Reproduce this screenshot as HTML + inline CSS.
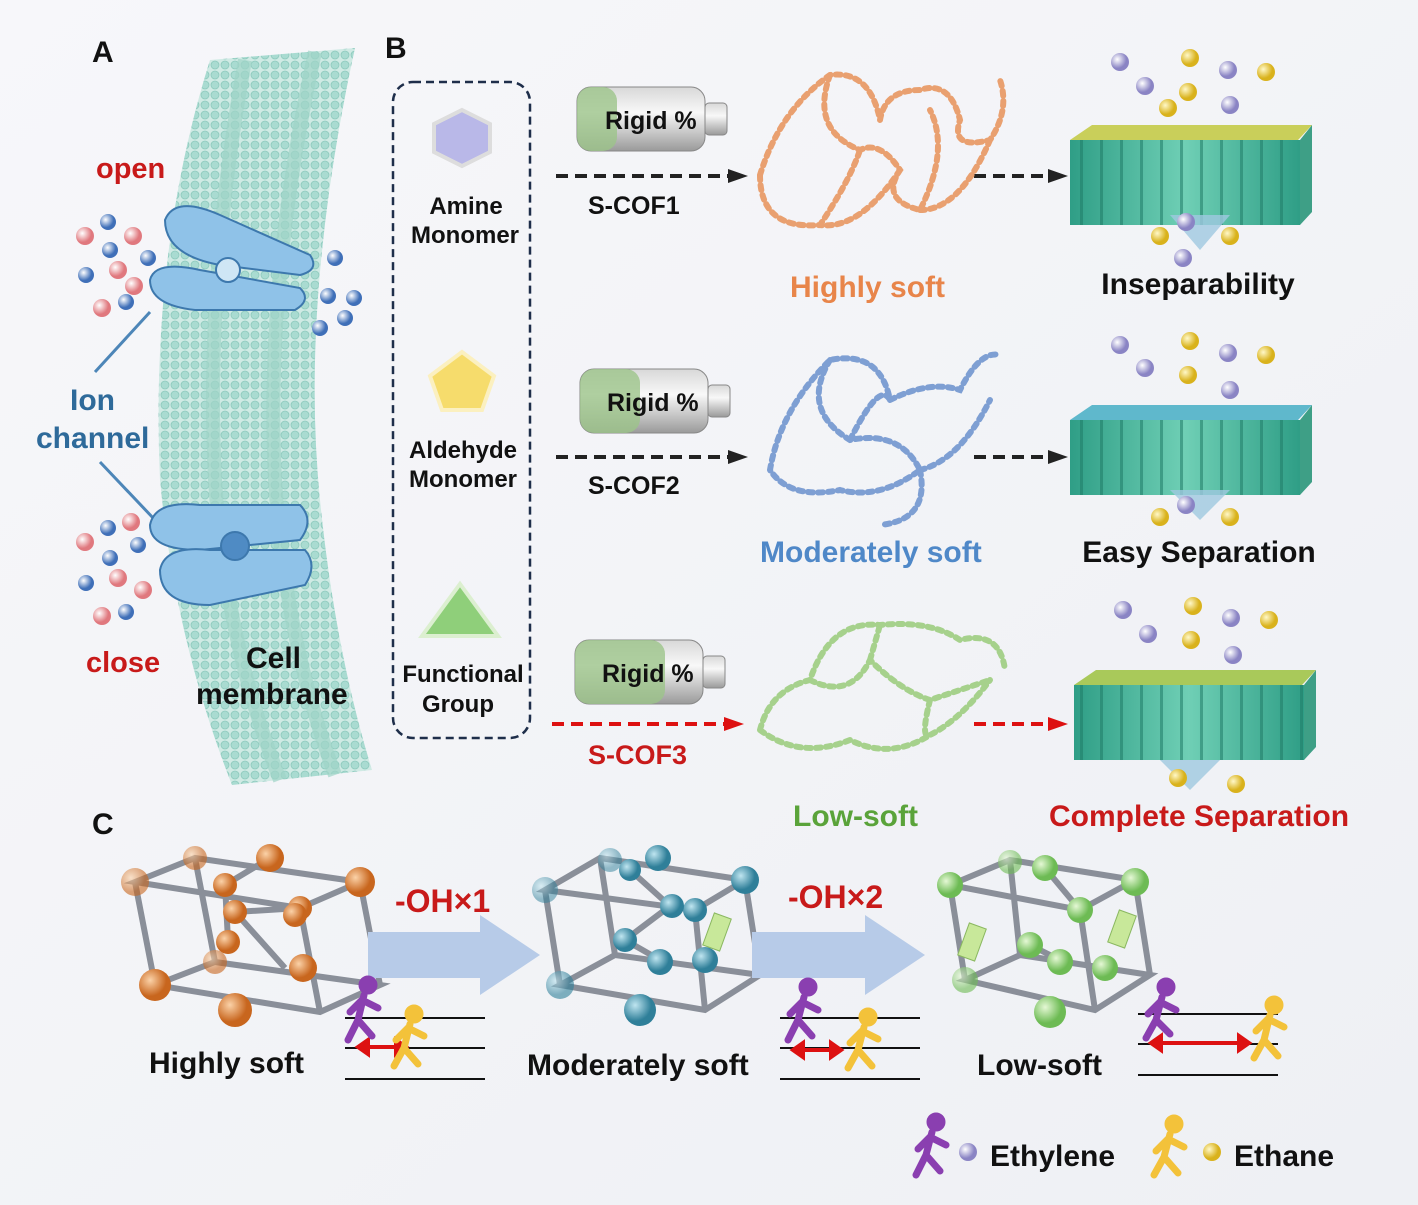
<!DOCTYPE html>
<html><head><meta charset="utf-8"><style>
html,body{margin:0;padding:0;background:#f4f5f8;}
svg{display:block;font-family:"Liberation Sans",Arial,sans-serif;font-weight:bold;}
</style></head><body>
<svg width="1418" height="1205" viewBox="0 0 1418 1205" xmlns="http://www.w3.org/2000/svg">
<defs>
<linearGradient id="bg" x1="0" y1="0" x2="1" y2="1"><stop offset="0" stop-color="#f7f7fa"/><stop offset="1" stop-color="#eef0f4"/></linearGradient>
<pattern id="lip" width="10" height="10" patternUnits="userSpaceOnUse"><rect width="10" height="10" fill="#cfeae4"/><circle cx="5" cy="5" r="4" fill="#a9dbd1" stroke="#8cc9bd" stroke-width="0.8"/></pattern>
<pattern id="cols" width="20" height="10" patternUnits="userSpaceOnUse"><rect width="20" height="10" fill="none"/><rect x="0" y="0" width="3" height="10" fill="#1f7a66" opacity="0.55"/></pattern>
<linearGradient id="bat" x1="0" y1="0" x2="0" y2="1"><stop offset="0" stop-color="#d8d8d8"/><stop offset="0.4" stop-color="#f8f8f8"/><stop offset="1" stop-color="#9a9a9a"/></linearGradient>
<linearGradient id="mem" x1="0" y1="0" x2="1" y2="0"><stop offset="0" stop-color="#2f9e86"/><stop offset="0.5" stop-color="#6fcfb5"/><stop offset="1" stop-color="#2f9e86"/></linearGradient>
<radialGradient id="og" cx="0.35" cy="0.35"><stop offset="0" stop-color="#fbd2a8"/><stop offset="1" stop-color="#c8661e"/></radialGradient>
<radialGradient id="bgb" cx="0.35" cy="0.35"><stop offset="0" stop-color="#bfe5f0"/><stop offset="1" stop-color="#2f7f99"/></radialGradient>
<radialGradient id="gg" cx="0.35" cy="0.35"><stop offset="0" stop-color="#e5f8d5"/><stop offset="1" stop-color="#6dbb54"/></radialGradient>
<radialGradient id="pb" cx="0.35" cy="0.35"><stop offset="0" stop-color="#fff"/><stop offset="1" stop-color="#8a84c4"/></radialGradient>
<radialGradient id="yb" cx="0.35" cy="0.35"><stop offset="0" stop-color="#fff8c8"/><stop offset="1" stop-color="#d9b21c"/></radialGradient>
<radialGradient id="rb" cx="0.35" cy="0.35"><stop offset="0" stop-color="#fff"/><stop offset="1" stop-color="#e0787e"/></radialGradient>
<radialGradient id="blb" cx="0.35" cy="0.35"><stop offset="0" stop-color="#fff"/><stop offset="1" stop-color="#3f6fb8"/></radialGradient>
<marker id="ak" markerUnits="userSpaceOnUse" markerWidth="20" markerHeight="20" refX="10" refY="10" orient="auto"><path d="M0,3 L20,10 L0,17z" fill="#222"/></marker>
<marker id="ar" markerUnits="userSpaceOnUse" markerWidth="20" markerHeight="20" refX="10" refY="10" orient="auto"><path d="M0,3 L20,10 L0,17z" fill="#d11"/></marker>
</defs>
<rect width="1418" height="1205" fill="url(#bg)"/>

<!-- A: membrane -->
<path d="M210,60 L355,48 Q300,300 320,500 Q335,650 372,770 L232,785 Q175,640 160,480 Q150,250 210,60Z" fill="url(#lip)"/>
<path d="M245,60 Q205,280 215,480 Q225,640 280,780 M315,52 Q265,280 275,480 Q285,640 335,775" stroke="#9fd4c8" stroke-width="14" fill="none" opacity="0.7"/>
<text x="92" y="62" font-size="30" fill="#111">A</text>
<text x="96" y="178" font-size="29" fill="#c81a1a">open</text>
<text x="86" y="672" font-size="29" fill="#c81a1a">close</text>
<text x="70" y="410" font-size="30" fill="#2e6a9a">Ion</text>
<text x="36" y="448" font-size="30" fill="#2e6a9a">channel</text>
<text x="246" y="668" font-size="30" fill="#111">Cell</text>
<text x="196" y="704" font-size="30" fill="#111">membrane</text>
<line x1="95" y1="372" x2="150" y2="312" stroke="#4d86b8" stroke-width="3"/>
<line x1="100" y1="462" x2="155" y2="520" stroke="#4d86b8" stroke-width="3"/>
<g fill="#8fc2e8" stroke="#3d78ad" stroke-width="2">
<path d="M165,220 Q175,195 220,215 L310,255 Q320,270 300,275 L220,265 Q165,255 165,220Z"/>
<path d="M150,280 Q155,260 200,270 L300,288 Q312,300 295,310 L195,310 Q150,305 150,280Z"/>
<circle cx="228" cy="270" r="12" fill="#cfe6f5"/>
<path d="M150,525 Q155,500 200,505 L300,505 Q315,520 300,540 L200,550 Q150,550 150,525Z"/>
<path d="M160,570 Q165,545 210,550 L305,550 Q318,565 305,585 L210,605 Q160,605 160,570Z"/>
<circle cx="235" cy="546" r="14" fill="#4f8bc4"/>
</g>
<g>
<circle cx="85" cy="236" r="9" fill="url(#rb)"/><circle cx="108" cy="222" r="8" fill="url(#blb)"/><circle cx="133" cy="236" r="9" fill="url(#rb)"/><circle cx="110" cy="250" r="8" fill="url(#blb)"/><circle cx="86" cy="275" r="8" fill="url(#blb)"/><circle cx="118" cy="270" r="9" fill="url(#rb)"/><circle cx="148" cy="258" r="8" fill="url(#blb)"/><circle cx="102" cy="308" r="9" fill="url(#rb)"/><circle cx="126" cy="302" r="8" fill="url(#blb)"/><circle cx="134" cy="286" r="9" fill="url(#rb)"/>
<circle cx="335" cy="258" r="8" fill="url(#blb)"/><circle cx="328" cy="296" r="8" fill="url(#blb)"/><circle cx="354" cy="298" r="8" fill="url(#blb)"/><circle cx="345" cy="318" r="8" fill="url(#blb)"/><circle cx="320" cy="328" r="8" fill="url(#blb)"/>
<circle cx="85" cy="542" r="9" fill="url(#rb)"/><circle cx="108" cy="528" r="8" fill="url(#blb)"/><circle cx="131" cy="522" r="9" fill="url(#rb)"/><circle cx="110" cy="558" r="8" fill="url(#blb)"/><circle cx="86" cy="583" r="8" fill="url(#blb)"/><circle cx="118" cy="578" r="9" fill="url(#rb)"/><circle cx="143" cy="590" r="9" fill="url(#rb)"/><circle cx="102" cy="616" r="9" fill="url(#rb)"/><circle cx="126" cy="612" r="8" fill="url(#blb)"/><circle cx="138" cy="545" r="8" fill="url(#blb)"/>
</g>

<!-- B -->
<text x="385" y="58" font-size="30" fill="#111">B</text>
<rect x="393" y="82" width="137" height="656" rx="20" fill="none" stroke="#1e2e4a" stroke-width="2.5" stroke-dasharray="8,5"/>
<polygon points="462,110 490,124 490,152 462,166 434,152 434,124" fill="#b9b8e8" stroke="#ddd" stroke-width="4"/>
<polygon points="462,352 494,376 482,410 442,410 430,376" fill="#f6dc6c" stroke="#fbf0c0" stroke-width="4"/>
<polygon points="460,584 498,636 422,636" fill="#8fcf7a" stroke="#dcefd0" stroke-width="4"/>
<g font-size="24" fill="#111" text-anchor="middle">
<text x="466" y="214">Amine</text><text x="465" y="243">Monomer</text>
<text x="463" y="458">Aldehyde</text><text x="463" y="487">Monomer</text>
<text x="463" y="682">Functional</text><text x="458" y="712">Group</text>
</g>
<g>
<rect x="577" y="87" width="128" height="64" rx="14" fill="url(#bat)" stroke="#888"/><rect x="577" y="87" width="40" height="64" rx="14" fill="#9cc48a" opacity="0.8"/><rect x="705" y="103" width="22" height="32" rx="4" fill="url(#bat)" stroke="#888"/>
<text x="605" y="129" font-size="25" fill="#111">Rigid %</text>
<rect x="580" y="369" width="128" height="64" rx="14" fill="url(#bat)" stroke="#888"/><rect x="580" y="369" width="60" height="64" rx="14" fill="#9cc48a" opacity="0.8"/><rect x="708" y="385" width="22" height="32" rx="4" fill="url(#bat)" stroke="#888"/>
<text x="607" y="411" font-size="25" fill="#111">Rigid %</text>
<rect x="575" y="640" width="128" height="64" rx="14" fill="url(#bat)" stroke="#888"/><rect x="575" y="640" width="90" height="64" rx="14" fill="#9cc48a" opacity="0.8"/><rect x="703" y="656" width="22" height="32" rx="4" fill="url(#bat)" stroke="#888"/>
<text x="602" y="682" font-size="25" fill="#111">Rigid %</text>
</g>
<g stroke-width="4" stroke-dasharray="12,7" fill="none">
<line x1="556" y1="176" x2="738" y2="176" stroke="#222" marker-end="url(#ak)"/>
<line x1="974" y1="176" x2="1058" y2="176" stroke="#222" marker-end="url(#ak)"/>
<line x1="556" y1="457" x2="738" y2="457" stroke="#222" marker-end="url(#ak)"/>
<line x1="974" y1="457" x2="1058" y2="457" stroke="#222" marker-end="url(#ak)"/>
<line x1="552" y1="724" x2="734" y2="724" stroke="#d11" marker-end="url(#ar)"/>
<line x1="974" y1="724" x2="1058" y2="724" stroke="#d11" marker-end="url(#ar)"/>
</g>
<text x="588" y="214" font-size="25" fill="#111">S-COF1</text>
<text x="588" y="494" font-size="25" fill="#111">S-COF2</text>
<text x="588" y="764" font-size="27" fill="#c81a1a">S-COF3</text>
<g fill="none" stroke-width="6" stroke-linecap="round" stroke-dasharray="5,5">
<path d="M760,175 Q780,110 830,75 Q870,70 880,120 Q885,90 920,90 Q950,80 960,120 Q950,150 990,140 Q1010,110 1000,80 M830,75 Q810,130 860,150 Q880,140 900,170 Q880,200 920,210 Q950,150 930,110 M760,175 Q760,230 820,225 Q850,180 860,150 M900,170 Q860,230 820,225 M920,210 Q960,210 990,140" stroke="#e9a070"/>
<path d="M770,470 Q780,410 830,360 Q880,350 890,400 Q930,380 960,390 Q980,350 1000,355 M830,360 Q800,410 850,440 Q900,430 920,470 Q880,500 840,490 Q790,500 770,470 M920,470 Q960,460 990,400 M850,440 Q880,380 890,400 M920,470 Q930,520 880,525" stroke="#7e9fd3"/>
<path d="M760,730 Q770,690 810,680 Q830,620 880,625 Q930,620 960,640 Q1000,630 1005,670 M810,680 Q850,700 870,660 Q900,690 930,700 Q960,690 990,680 M760,730 Q800,760 850,740 Q890,760 930,735 Q960,720 990,680 M870,660 Q880,625 880,625 M930,700 Q920,740 930,735" stroke="#a6d18c"/>
</g>
<text x="790" y="297" font-size="30" fill="#e8854a">Highly soft</text>
<text x="760" y="562" font-size="30" fill="#4f88c8">Moderately soft</text>
<text x="793" y="826" font-size="30" fill="#5aa33a">Low-soft</text>
<g>
<polygon points="1092,125 1312,125 1298,140 1070,140" fill="#c9cf5a"/>
<rect x="1070" y="140" width="230" height="85" fill="url(#mem)"/>
<rect x="1070" y="140" width="230" height="85" fill="url(#cols)"/>
<polygon points="1300,140 1312,125 1312,212 1300,225" fill="#3e9f86"/>
<polygon points="1170,215 1230,215 1200,250" fill="#9fc8e0" opacity="0.8"/>
<polygon points="1092,405 1312,405 1298,420 1070,420" fill="#5fb8cc"/>
<rect x="1070" y="420" width="230" height="75" fill="url(#mem)"/>
<rect x="1070" y="420" width="230" height="75" fill="url(#cols)"/>
<polygon points="1300,420 1312,405 1312,482 1300,495" fill="#3e9f86"/>
<polygon points="1170,490 1230,490 1200,520" fill="#9fc8e0" opacity="0.8"/>
<polygon points="1096,670 1316,670 1302,685 1074,685" fill="#a9c95a"/>
<rect x="1074" y="685" width="230" height="75" fill="url(#mem)"/>
<rect x="1074" y="685" width="230" height="75" fill="url(#cols)"/>
<polygon points="1304,685 1316,670 1316,747 1304,760" fill="#3e9f86"/>
<polygon points="1160,760 1220,760 1190,790" fill="#9fc8e0" opacity="0.8"/>
</g>
<g>
<circle cx="1120" cy="62" r="9" fill="url(#pb)"/><circle cx="1145" cy="86" r="9" fill="url(#pb)"/><circle cx="1190" cy="58" r="9" fill="url(#yb)"/><circle cx="1228" cy="70" r="9" fill="url(#pb)"/><circle cx="1266" cy="72" r="9" fill="url(#yb)"/><circle cx="1188" cy="92" r="9" fill="url(#yb)"/><circle cx="1168" cy="108" r="9" fill="url(#yb)"/><circle cx="1230" cy="105" r="9" fill="url(#pb)"/>
<circle cx="1160" cy="236" r="9" fill="url(#yb)"/><circle cx="1186" cy="222" r="9" fill="url(#pb)"/><circle cx="1230" cy="236" r="9" fill="url(#yb)"/><circle cx="1183" cy="258" r="9" fill="url(#pb)"/>
<circle cx="1120" cy="345" r="9" fill="url(#pb)"/><circle cx="1145" cy="368" r="9" fill="url(#pb)"/><circle cx="1190" cy="341" r="9" fill="url(#yb)"/><circle cx="1228" cy="353" r="9" fill="url(#pb)"/><circle cx="1266" cy="355" r="9" fill="url(#yb)"/><circle cx="1188" cy="375" r="9" fill="url(#yb)"/><circle cx="1230" cy="390" r="9" fill="url(#pb)"/>
<circle cx="1160" cy="517" r="9" fill="url(#yb)"/><circle cx="1186" cy="505" r="9" fill="url(#pb)"/><circle cx="1230" cy="517" r="9" fill="url(#yb)"/>
<circle cx="1123" cy="610" r="9" fill="url(#pb)"/><circle cx="1148" cy="634" r="9" fill="url(#pb)"/><circle cx="1193" cy="606" r="9" fill="url(#yb)"/><circle cx="1231" cy="618" r="9" fill="url(#pb)"/><circle cx="1269" cy="620" r="9" fill="url(#yb)"/><circle cx="1191" cy="640" r="9" fill="url(#yb)"/><circle cx="1233" cy="655" r="9" fill="url(#pb)"/>
<circle cx="1178" cy="778" r="9" fill="url(#yb)"/><circle cx="1236" cy="784" r="9" fill="url(#yb)"/>
</g>
<g font-size="30" fill="#111" text-anchor="middle">
<text x="1198" y="294">Inseparability</text>
<text x="1199" y="562">Easy Separation</text>
<text x="1199" y="826" fill="#c81a1a">Complete Separation</text>
</g>

<!-- C -->
<text x="92" y="834" font-size="30" fill="#111">C</text>
<g stroke="#8a8f99" stroke-width="6" fill="none">
<path d="M135,882 L195,858 L360,882 L300,908 Z M155,985 L215,962 L380,985 L320,1012 Z M135,882 L155,985 M195,858 L215,962 M360,882 L380,985 M300,908 L320,1012 M225,885 L270,858 M285,968 L235,912 M235,912 L300,908 M225,885 L228,940"/>
<path d="M545,890 L600,858 L745,880 L695,910 Z M560,985 L615,955 L760,975 L705,1010 Z M545,890 L560,985 M600,858 L615,955 M745,880 L760,975 M695,910 L705,1010 M630,870 L670,906 L625,940 L660,960"/>
<path d="M950,885 L1010,860 L1135,880 L1080,910 Z M965,980 L1020,955 L1150,975 L1095,1010 Z M950,885 L965,980 M1010,860 L1020,955 M1135,880 L1150,975 M1080,910 L1095,1010 M1045,868 L1080,910 M1030,945 L1060,960"/>
</g>
<g>
<circle cx="135" cy="882" r="14" fill="url(#og)" opacity="0.6"/><circle cx="195" cy="858" r="12" fill="url(#og)" opacity="0.6"/><circle cx="270" cy="858" r="14" fill="url(#og)"/><circle cx="360" cy="882" r="15" fill="url(#og)"/><circle cx="300" cy="908" r="12" fill="url(#og)"/><circle cx="225" cy="885" r="12" fill="url(#og)"/><circle cx="235" cy="912" r="12" fill="url(#og)"/><circle cx="228" cy="942" r="12" fill="url(#og)"/><circle cx="295" cy="915" r="12" fill="url(#og)"/><circle cx="155" cy="985" r="16" fill="url(#og)"/><circle cx="215" cy="962" r="12" fill="url(#og)" opacity="0.6"/><circle cx="303" cy="968" r="14" fill="url(#og)"/><circle cx="235" cy="1010" r="17" fill="url(#og)"/>
<circle cx="545" cy="890" r="13" fill="url(#bgb)" opacity="0.5"/><circle cx="610" cy="860" r="12" fill="url(#bgb)" opacity="0.5"/><circle cx="658" cy="858" r="13" fill="url(#bgb)"/><circle cx="745" cy="880" r="14" fill="url(#bgb)"/><circle cx="695" cy="910" r="12" fill="url(#bgb)"/><circle cx="630" cy="870" r="11" fill="url(#bgb)"/><circle cx="672" cy="906" r="12" fill="url(#bgb)"/><circle cx="625" cy="940" r="12" fill="url(#bgb)"/><circle cx="660" cy="962" r="13" fill="url(#bgb)"/><circle cx="705" cy="960" r="13" fill="url(#bgb)"/><circle cx="560" cy="985" r="14" fill="url(#bgb)" opacity="0.6"/><circle cx="640" cy="1010" r="16" fill="url(#bgb)"/>
<rect x="708" y="915" width="18" height="34" fill="#c8e89a" stroke="#8ab860" transform="rotate(20 717 932)"/>
<circle cx="950" cy="885" r="13" fill="url(#gg)"/><circle cx="1010" cy="862" r="12" fill="url(#gg)" opacity="0.6"/><circle cx="1045" cy="868" r="13" fill="url(#gg)"/><circle cx="1135" cy="882" r="14" fill="url(#gg)"/><circle cx="1080" cy="910" r="13" fill="url(#gg)"/><circle cx="1030" cy="945" r="13" fill="url(#gg)"/><circle cx="1060" cy="962" r="13" fill="url(#gg)"/><circle cx="1105" cy="968" r="13" fill="url(#gg)"/><circle cx="965" cy="980" r="13" fill="url(#gg)" opacity="0.6"/><circle cx="1050" cy="1012" r="16" fill="url(#gg)"/>
<rect x="963" y="925" width="18" height="34" fill="#c8e89a" stroke="#8ab860" transform="rotate(20 972 942)"/>
<rect x="1113" y="912" width="18" height="34" fill="#c8e89a" stroke="#8ab860" transform="rotate(20 1122 929)"/>
</g>
<polygon points="368,932 480,932 480,915 540,955 480,995 480,978 368,978" fill="#b7cbe8"/>
<polygon points="752,932 865,932 865,915 925,955 865,995 865,978 752,978" fill="#b7cbe8"/>
<text x="395" y="912" font-size="32" fill="#c81a1a">-OH×1</text>
<text x="788" y="908" font-size="32" fill="#c81a1a">-OH×2</text>
<g stroke="#111" stroke-width="2">
<line x1="345" y1="1018" x2="485" y2="1018"/><line x1="345" y1="1048" x2="485" y2="1048"/><line x1="345" y1="1079" x2="485" y2="1079"/>
<line x1="780" y1="1018" x2="920" y2="1018"/><line x1="780" y1="1048" x2="920" y2="1048"/><line x1="780" y1="1079" x2="920" y2="1079"/>
<line x1="1138" y1="1014" x2="1278" y2="1014"/><line x1="1138" y1="1044" x2="1278" y2="1044"/><line x1="1138" y1="1075" x2="1278" y2="1075"/>
</g>
<g stroke="#d11" stroke-width="4">
<line x1="362" y1="1047" x2="402" y2="1047"/><polygon points="358,1047 368,1040 368,1054" fill="#d11"/><polygon points="406,1047 396,1040 396,1054" fill="#d11"/>
<line x1="797" y1="1050" x2="837" y2="1050"/><polygon points="793,1050 803,1043 803,1057" fill="#d11"/><polygon points="841,1050 831,1043 831,1057" fill="#d11"/>
<line x1="1155" y1="1043" x2="1245" y2="1043"/><polygon points="1151,1043 1161,1036 1161,1050" fill="#d11"/><polygon points="1249,1043 1239,1036 1239,1050" fill="#d11"/>
</g>
<g stroke-linecap="round" stroke-width="7" fill="none">
<g stroke="#8a3fb0"><circle cx="368" cy="985" r="6" fill="#8a3fb0"/><path d="M364,995 L358,1020 M362,1000 L350,1012 M362,1000 L378,1008 M358,1020 L348,1040 M358,1020 L372,1036"/></g>
<g stroke="#f3c23a"><circle cx="414" cy="1014" r="6" fill="#f3c23a"/><path d="M410,1024 L404,1048 M408,1028 L396,1040 M408,1028 L424,1036 M404,1048 L394,1066 M404,1048 L418,1064"/></g>
<g stroke="#8a3fb0"><circle cx="808" cy="987" r="6" fill="#8a3fb0"/><path d="M804,997 L798,1020 M802,1002 L790,1014 M802,1002 L818,1010 M798,1020 L788,1040 M798,1020 L812,1036"/></g>
<g stroke="#f3c23a"><circle cx="868" cy="1017" r="6" fill="#f3c23a"/><path d="M864,1027 L858,1050 M862,1031 L850,1043 M862,1031 L878,1039 M858,1050 L848,1068 M858,1050 L872,1066"/></g>
<g stroke="#8a3fb0"><circle cx="1166" cy="987" r="6" fill="#8a3fb0"/><path d="M1162,997 L1156,1020 M1160,1002 L1148,1014 M1160,1002 L1176,1010 M1156,1020 L1146,1038 M1156,1020 L1170,1034"/></g>
<g stroke="#f3c23a"><circle cx="1274" cy="1005" r="6" fill="#f3c23a"/><path d="M1270,1015 L1264,1040 M1268,1019 L1256,1031 M1268,1019 L1284,1027 M1264,1040 L1254,1058 M1264,1040 L1278,1056"/></g>
<g stroke="#8a3fb0"><circle cx="936" cy="1122" r="6" fill="#8a3fb0"/><path d="M932,1132 L926,1155 M930,1137 L918,1149 M930,1137 L946,1145 M926,1155 L916,1175 M926,1155 L940,1171"/></g>
<g stroke="#f3c23a"><circle cx="1174" cy="1124" r="6" fill="#f3c23a"/><path d="M1170,1134 L1164,1157 M1168,1139 L1156,1151 M1168,1139 L1184,1147 M1164,1157 L1154,1175 M1164,1157 L1178,1173"/></g>
</g>
<circle cx="968" cy="1152" r="9" fill="url(#pb)"/>
<circle cx="1212" cy="1152" r="9" fill="url(#yb)"/>
<g font-size="30" fill="#111">
<text x="149" y="1073">Highly soft</text>
<text x="527" y="1075">Moderately soft</text>
<text x="977" y="1075">Low-soft</text>
<text x="990" y="1166">Ethylene</text>
<text x="1234" y="1166">Ethane</text>
</g>
</svg>
</body></html>
